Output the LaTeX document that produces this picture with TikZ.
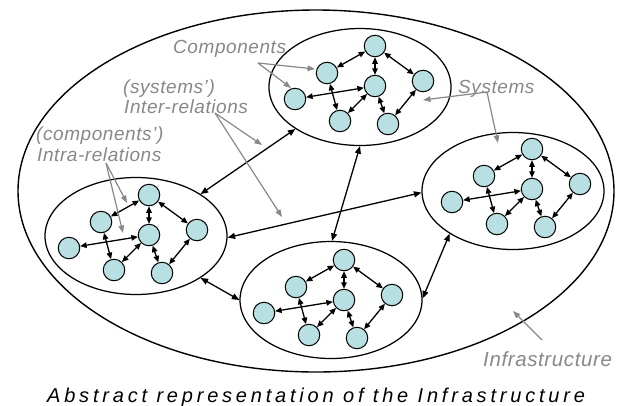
\documentclass[tikz,border=0pt]{standalone}
\usepackage{fontspec}
\setmainfont{Liberation Sans}
\usetikzlibrary{arrows.meta,shapes.geometric}
\definecolor{compfill}{RGB}{184,223,225}
\definecolor{annot}{RGB}{136,136,136}
\newcommand\mycluster[3]{%
  \node[comp] (#1c) at (#2,#3) {};
  \node[comp] (#1t) at (#2,#3-40) {};
  \node[comp] (#1ul) at (#2-48,#3-13) {};
  \node[comp] (#1r) at (#2+48,#3-5) {};
  \node[comp] (#1l) at (#2-80,#3+13) {};
  \node[comp] (#1lm) at (#2-35,#3+35) {};
  \node[comp] (#1lr) at (#2+13,#3+38) {};
  \draw[carrow] (#1t) -- (#1ul);
  \draw[carrow] (#1t) -- (#1c);
  \draw[carrow] (#1t) -- (#1r);
  \draw[carrow] (#1ul) -- (#1lm);
  \draw[carrow] (#1c) -- (#1l);
  \draw[carrow] (#1c) -- (#1lm);
  \draw[carrow] (#1c) -- (#1lr);
  \draw[carrow] (#1r) -- (#1lr);
}
\begin{document}
\begin{tikzpicture}[x=1pt,y=-1pt,
  comp/.style={circle,draw,fill=compfill,minimum size=21.5pt,inner sep=0pt,line width=1pt},
  sys/.style={ellipse,draw,fill=white,line width=1.25pt,minimum width=182pt,minimum height=117pt,inner sep=0pt},
  carrow/.style={line width=1.3pt,{Triangle[length=6.5pt,width=5.5pt]}-{Triangle[length=6.5pt,width=5.5pt]}},
  sarrow/.style={line width=1.3pt,{Triangle[length=7.5pt,width=6pt]}-{Triangle[length=7.5pt,width=6pt]}},
  garrow/.style={draw=annot,line width=1.2pt,-{Triangle[length=7.5pt,width=5.5pt]}},
  glabel/.style={text=annot,anchor=base west,inner sep=0pt,font=\fontsize{19}{20}\selectfont\itshape\addfontfeature{LetterSpace=3}},
]
\useasboundingbox (0,0) rectangle (623,405);
\node[ellipse,draw,line width=1.4pt,minimum width=596pt,minimum height=362pt,inner sep=0pt] (infra) at (316,191) {};
\node[sys] (T) at (360,87) {};
\node[sys] (L) at (136,236) {};
\node[sys] (R) at (513,191) {};
\node[sys] (B) at (331,300) {};
\draw[sarrow] (L.33) -- (T.213);
\draw[sarrow] (L.359) -- (R.181);
\draw[sarrow] (T.270) -- (B.89);
\draw[sarrow] (L.327) -- (B.180);
\draw[sarrow] (B.1) -- (R.214);
\mycluster{t}{375}{86}
\mycluster{l}{149}{235}
\mycluster{r}{532}{189}
\mycluster{b}{344}{300}
% annotations
\node[glabel] (lcomp) at (173,53) {Components};
\node[glabel] (lsys1) at (123,93) {(systems’)};
\node[glabel] (lsys2) at (124,113) {Inter-relations};
\node[glabel] (lcmp1) at (36,140) {(components’)};
\node[glabel] (lcmp2) at (37,161) {Intra-relations};
\node[glabel] (lsyst) at (458,93) {Systems};
\node[glabel,font=\fontsize{20.5}{22}\selectfont\itshape\addfontfeature{LetterSpace=3}] (linfra) at (483,366) {Infrastructure};
\node[anchor=base west,inner sep=0pt,font=\fontsize{20}{24}\selectfont\itshape\addfontfeature{LetterSpace=19}] (caption) at (47,402) {Abstract representation of the Infrastructure};
\coordinate (oc) at (258,63);
\coordinate (oc1) at (315,69);
\coordinate (oc2) at (291,88);
\coordinate (oi) at (215,113);
\coordinate (oi1) at (262,145);
\coordinate (oi2) at (282,217);
\coordinate (oa) at (106,163);
\coordinate (oa1) at (127,203);
\coordinate (oa2) at (123,233);
\coordinate (os) at (487,92);
\coordinate (os1) at (423,100);
\coordinate (os2) at (498,143);
\coordinate (of) at (542,340);
\coordinate (of1) at (513,311);
\draw[garrow] (oc) -- (oc1);
\draw[garrow] (oc) -- (oc2);
\draw[garrow] (oi) -- (oi1);
\draw[garrow] (oi) -- (oi2);
\draw[garrow] (oa) -- (oa1);
\draw[garrow] (oa) -- (oa2);
\draw[garrow] (os) -- (os1);
\draw[garrow] (os) -- (os2);
\draw[garrow] (of) -- (of1);
\end{tikzpicture}
\end{document}
